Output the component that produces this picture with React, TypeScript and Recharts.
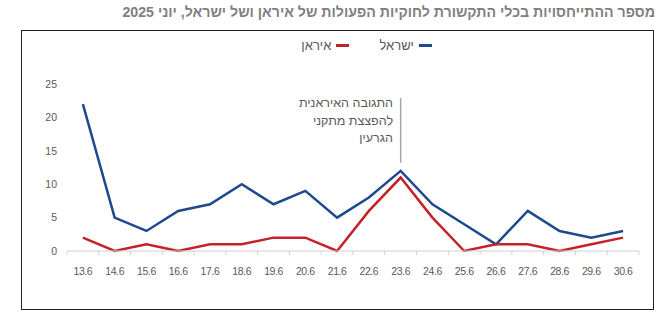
import { LineChart, XAxis, YAxis, Line, ReferenceLine } from 'recharts';

const dates = ['13.6', '14.6', '15.6', '16.6', '17.6', '18.6', '19.6', '20.6', '21.6', '22.6', '23.6', '24.6', '25.6', '26.6', '27.6', '28.6', '29.6', '30.6'];
const israel = [22, 5, 3, 6, 7, 10, 7, 9, 5, 8, 12, 7, 4, 1, 6, 3, 2, 3];
const iran = [2, 0, 1, 0, 1, 1, 2, 2, 0, 6, 11, 5, 0, 1, 1, 0, 1, 2];
const yTicks = [0, 5, 10, 15, 20, 25];

const title = 'מספר ההתייחסויות בכלי התקשורת לחוקיות הפעולות של איראן ושל ישראל, יוני 2025';
const noteLines = ['התגובה האיראנית', 'להפצצת מתקני', 'הגרעין'];
const series = [
  { key: 'israel', name: 'ישראל', color: '#1d4a8e' },
  { key: 'iran', name: 'איראן', color: '#c42229' },
];

const STEP = 572 / dates.length;

const data = dates.map((d, i) => ({ date: d, israel: israel[i], iran: iran[i] }));

const XTick = (props: any) => {
  const { x, y, payload, index } = props;
  return (
    <g>
      <line x1={x - STEP / 2} x2={x - STEP / 2} y1={y - 8} y2={y - 4} stroke="#d0d0d0" />
      {index === dates.length - 1 && (
        <line x1={x + STEP / 2} x2={x + STEP / 2} y1={y - 8} y2={y - 4} stroke="#d0d0d0" />
      )}
      <text x={x} y={y + 16} textAnchor="middle" fontSize={10.5} letterSpacing={-0.4} fill="#595959">
        {payload.value}
      </text>
    </g>
  );
};

export default function App() {
  return (
    <div style={{ position: 'absolute', left: 0, top: 0, width: 668, height: 322, background: '#fff', fontFamily: "'Liberation Sans', sans-serif" }}>
      <div style={{ position: 'absolute', right: 13, top: 4, direction: 'rtl', fontSize: 14.2, fontWeight: 'bold', color: '#7f7f7f', whiteSpace: 'nowrap' }}>
        {title}
      </div>
      <div style={{ position: 'absolute', left: 21, top: 30, width: 631, height: 278, border: '1.5px solid #222' }} />
      <div style={{ position: 'absolute', right: 236, top: 38, direction: 'rtl', display: 'flex', gap: 30, fontSize: 13, color: '#595959' }}>
        {series.map((s) => (
          <span key={s.key} style={{ display: 'flex', alignItems: 'center', gap: 5 }}>
            <span style={{ width: 13, height: 3, background: s.color, display: 'inline-block' }} />
            {s.name}
          </span>
        ))}
      </div>
      <div style={{ position: 'absolute', right: 275, top: 95, direction: 'rtl', textAlign: 'right', fontSize: 12.5, lineHeight: '17.5px', color: '#595959', whiteSpace: 'nowrap' }}>
        {noteLines.map((l) => (
          <div key={l}>{l}</div>
        ))}
      </div>
      <LineChart width={668} height={322} data={data} margin={{ top: 84, right: 29, bottom: 41, left: 0 }} style={{ position: 'absolute', left: 0, top: 0 }}>
        <XAxis dataKey="date" height={30} padding={{ left: STEP / 2, right: STEP / 2 }} axisLine={{ stroke: '#d0d0d0' }} tickLine={false} tick={<XTick />} interval={0} />
        <YAxis width={67} domain={[0, 25]} ticks={yTicks} axisLine={false} tickLine={false} tick={{ fontSize: 10.5, fill: '#595959' }} dx={-2} />
        <ReferenceLine segment={[{ x: '23.6', y: 13.2 }, { x: '23.6', y: 22.9 }]} stroke="#a6a6a6" strokeWidth={1.5} />
        {series.map((s) => (
          <Line key={s.key} dataKey={s.key} stroke={s.color} strokeWidth={2.5} dot={false} isAnimationActive={false} />
        ))}
      </LineChart>
    </div>
  );
}
